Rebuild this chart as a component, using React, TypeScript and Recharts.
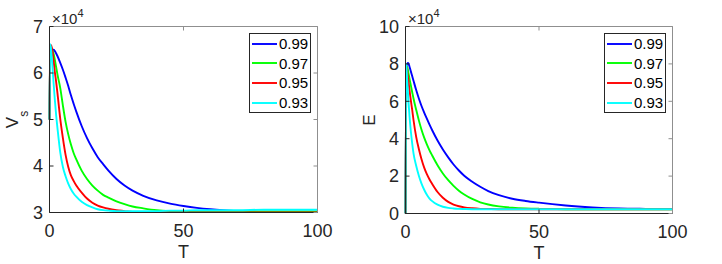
import React from 'react'
import { LineChart, Line, XAxis, YAxis, Legend } from 'recharts'

const DARK = '#262626'
const LIGHT = '#8f8f8f'
const FONT = '"Liberation Sans", Arial, Helvetica, sans-serif'

const T = [0, 0.3, 0.6, 1, 1.5, 2, 2.5, 3, 4, 5, 6, 7, 8, 9, 10, 12, 14, 16, 18, 20, 22, 25, 28, 31, 35, 40, 45, 50, 55, 60, 70, 80, 90, 100]
const X_TICKS = [0, 50, 100]

const seriesNames = ['0.99', '0.97', '0.95', '0.93']
const seriesKeys = ['k99', 'k97', 'k95', 'k93']
const seriesColors = ['#0000ff', '#00ff00', '#ff0000', '#00ffff']

// V_s, in units of 10^4
const vs99 = [5.0, 6.4, 6.46, 6.5, 6.5, 6.47, 6.42, 6.36, 6.22, 6.07, 5.9, 5.72, 5.52, 5.34, 5.17, 4.86, 4.6, 4.38, 4.19, 4.04, 3.9, 3.72, 3.58, 3.47, 3.36, 3.26, 3.19, 3.14, 3.1, 3.07, 3.03, 3.01, 3.0, 2.99]
const vs97 = [5.0, 6.45, 6.55, 6.5, 6.42, 6.28, 6.12, 5.96, 5.68, 5.3, 4.95, 4.68, 4.46, 4.28, 4.14, 3.9, 3.72, 3.58, 3.47, 3.38, 3.32, 3.24, 3.18, 3.13, 3.09, 3.05, 3.03, 3.02, 3.02, 3.02, 3.02, 3.02, 3.02, 3.02]
const vs95 = [5.0, 6.55, 6.6, 6.5, 6.28, 6.02, 5.8, 5.55, 5.02, 4.6, 4.24, 3.98, 3.8, 3.68, 3.58, 3.43, 3.3, 3.21, 3.15, 3.11, 3.08, 3.05, 3.03, 3.01, 3.0, 3.0, 3.0, 3.0, 3.0, 3.0, 3.0, 3.0, 3.0, 3.0]
const vs93 = [5.0, 6.62, 6.5, 6.22, 5.8, 5.42, 5.08, 4.8, 4.3, 3.98, 3.78, 3.62, 3.5, 3.41, 3.34, 3.23, 3.16, 3.11, 3.07, 3.05, 3.04, 3.03, 3.03, 3.03, 3.03, 3.03, 3.04, 3.04, 3.05, 3.05, 3.05, 3.06, 3.06, 3.06]
const VS_TICKS = [3, 4, 5, 6, 7]

// E, in units of 10^4
const e99 = [0, 7.7, 8.0, 8.05, 7.85, 7.6, 7.35, 7.1, 6.6, 6.15, 5.75, 5.4, 5.07, 4.75, 4.45, 3.9, 3.42, 3.0, 2.62, 2.3, 2.02, 1.7, 1.43, 1.2, 0.98, 0.79, 0.67, 0.58, 0.5, 0.43, 0.33, 0.27, 0.25, 0.24]
const e97 = [0, 7.7, 7.85, 7.6, 7.2, 6.85, 6.5, 6.15, 5.55, 4.98, 4.48, 4.06, 3.7, 3.38, 3.1, 2.58, 2.14, 1.78, 1.48, 1.22, 1.02, 0.78, 0.6, 0.48, 0.38, 0.31, 0.27, 0.25, 0.24, 0.23, 0.23, 0.23, 0.23, 0.23]
const e95 = [0, 7.85, 7.6, 7.2, 6.6, 6.05, 5.55, 5.0, 4.1, 3.45, 2.9, 2.45, 2.1, 1.82, 1.58, 1.15, 0.84, 0.62, 0.48, 0.39, 0.33, 0.28, 0.25, 0.24, 0.23, 0.23, 0.23, 0.23, 0.23, 0.23, 0.23, 0.23, 0.23, 0.23]
const e93 = [0, 8.0, 7.2, 6.25, 5.2, 4.4, 3.75, 3.22, 2.55, 2.02, 1.6, 1.27, 1.0, 0.8, 0.66, 0.47, 0.36, 0.3, 0.27, 0.25, 0.24, 0.23, 0.23, 0.23, 0.23, 0.23, 0.23, 0.23, 0.23, 0.23, 0.23, 0.23, 0.23, 0.23]
const E_TICKS = [0, 2, 4, 6, 8, 10]

function buildRows(cols: number[][]) {
  return T.map((t, i) => {
    const row: any = { t }
    seriesKeys.forEach((k, j) => {
      row[k] = cols[j][i]
    })
    return row
  })
}

const vsRows = buildRows([vs99, vs97, vs95, vs93])
const eRows = buildRows([e99, e97, e95, e93])

const ExpLabel = ({ viewBox }: any) => (
  <text x={viewBox.x + 2.5} y={viewBox.y + viewBox.height - 2.5} fill={DARK} fontSize={15} fontFamily={FONT}>
    ×10
    <tspan fontSize={11} dy={-7}>4</tspan>
  </text>
)

const YLabel = ({ viewBox, text, sub, bx }: any) => {
  const cx = viewBox.x + bx
  const cy = viewBox.y + viewBox.height / 2
  return (
    <text
      x={cx}
      y={cy}
      transform={`rotate(-90, ${cx}, ${cy})`}
      textAnchor="middle"
      fill={DARK}
      fontSize={17}
      fontFamily={FONT}
    >
      {text}
      {sub && (
        <tspan fontSize={12} dy={10}>
          {sub}
        </tspan>
      )}
    </text>
  )
}

// legend keeps the plotting order (0.99 first), not Recharts' sorted payload
const LegendBox = () => (
  <div style={{ border: `1px solid ${DARK}`, background: '#fff', width: 60, fontFamily: FONT }}>
    {seriesNames.map((name, i) => (
      <div key={name} style={{ display: 'flex', alignItems: 'center', height: 19.6 }}>
        <svg width={27} height={4} style={{ display: 'block' }}>
          <line x1={2} x2={27} y1={2} y2={2} stroke={seriesColors[i]} strokeWidth={1.9} />
        </svg>
        <span style={{ marginLeft: 2, fontSize: 15, lineHeight: 1, color: '#000' }}>{name}</span>
      </div>
    ))}
  </div>
)

interface PanelProps {
  left: number
  rows: any[]
  yDomain: [number, number]
  yTicks: number[]
  yAxisW: number
  marginRight: number
  marginBottom: number
  yLabel: string
  ySub?: string
  labelX: number
  legendLeft: number
}

function Panel(p: PanelProps) {
  const tickStyle = { fill: DARK, fontSize: 18, fontFamily: FONT }
  return (
    <div style={{ position: 'absolute', left: p.left, top: 0 }}>
      <LineChart
        width={340}
        height={264}
        data={p.rows}
        margin={{ top: 25.5, right: p.marginRight, bottom: p.marginBottom, left: 0 }}
      >
        <XAxis
          dataKey="t"
          type="number"
          domain={[0, 100]}
          ticks={X_TICKS}
          height={30}
          tickSize={-4}
          tickMargin={15.5}
          axisLine={{ stroke: DARK }}
          tickLine={{ stroke: DARK }}
          tick={tickStyle}
          label={{ value: 'T', position: 'bottom', offset: 3, fill: DARK, fontSize: 18, fontFamily: FONT }}
        />
        <XAxis
          xAxisId="top"
          orientation="top"
          dataKey="t"
          type="number"
          domain={[0, 100]}
          ticks={X_TICKS}
          height={1}
          tickSize={-4}
          tickFormatter={() => ''}
          axisLine={{ stroke: LIGHT }}
          tickLine={{ stroke: LIGHT }}
          label={<ExpLabel />}
        />
        <YAxis
          type="number"
          domain={p.yDomain}
          ticks={p.yTicks}
          allowDataOverflow
          width={p.yAxisW}
          tickSize={-4}
          tickMargin={10.5}
          axisLine={{ stroke: DARK }}
          tickLine={{ stroke: DARK }}
          tick={tickStyle}
          label={<YLabel text={p.yLabel} sub={p.ySub} bx={p.labelX} />}
        />
        <YAxis
          yAxisId="r"
          orientation="right"
          type="number"
          domain={p.yDomain}
          ticks={p.yTicks}
          allowDataOverflow
          width={1}
          tickSize={-4}
          tickFormatter={() => ''}
          axisLine={{ stroke: LIGHT }}
          tickLine={{ stroke: LIGHT }}
        />
        <Legend
          layout="horizontal"
          align="center"
          verticalAlign="middle"
          content={<LegendBox />}
          wrapperStyle={{ left: p.legendLeft, top: 33, width: 62, height: 'auto' }}
        />
        {seriesKeys.map((k, i) => (
          <Line
            key={k}
            type="monotone"
            dataKey={k}
            name={seriesNames[i]}
            stroke={seriesColors[i]}
            strokeWidth={1.9}
            dot={false}
            activeDot={false}
            isAnimationActive={false}
          />
        ))}
      </LineChart>
    </div>
  )
}

export default function App() {
  return (
    <div style={{ position: 'absolute', left: 0, top: 0, width: 722, height: 264, background: '#fff' }}>
      <Panel
        left={0}
        rows={vsRows}
        yDomain={[3, 7]}
        yTicks={VS_TICKS}
        yAxisW={49.5}
        marginRight={21.5}
        marginBottom={21.5}
        yLabel="V"
        ySub="s"
        labelX={18}
        legendLeft={249}
      />
      <Panel
        left={360}
        rows={eRows}
        yDomain={[0, 10]}
        yTicks={E_TICKS}
        yAxisW={45.5}
        marginRight={26.5}
        marginBottom={20.5}
        yLabel="E"
        labelX={15}
        legendLeft={244}
      />
    </div>
  )
}
